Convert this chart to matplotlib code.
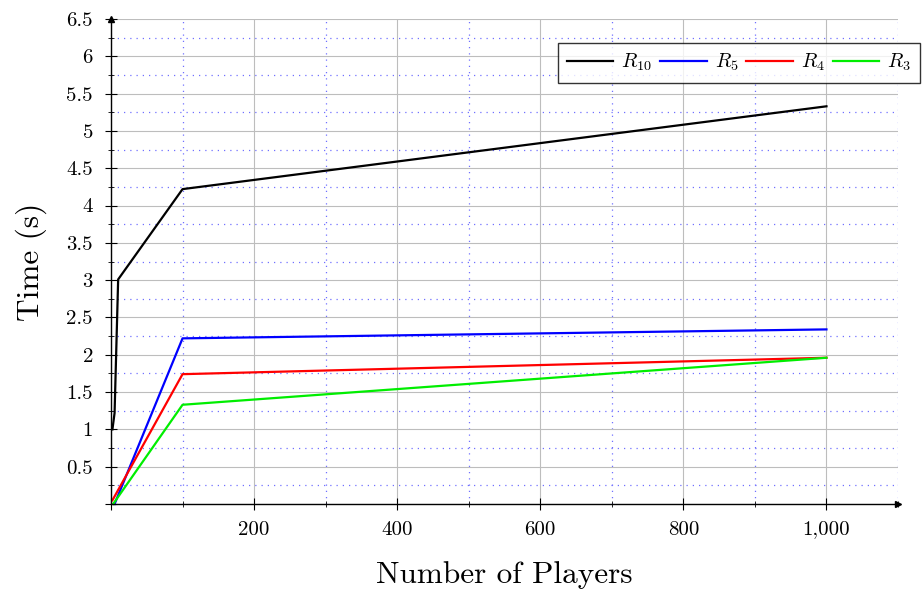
import numpy as np
import matplotlib
matplotlib.use('Agg')
from matplotlib import pyplot as plt
from matplotlib.ticker import MultipleLocator, FuncFormatter

# Measured run times per number of players
players_r10 = [2, 5, 10, 100, 1000]
time_r10 = [1.0, 1.22, 3.01, 4.22, 5.33]

players_r5 = [5, 100, 1000]
time_r5 = [0.0, 2.22, 2.34]

players_r4 = [2, 100, 1000]
time_r4 = [0.05, 1.74, 1.96]

players_r3 = [3, 100, 1000]
time_r3 = [0.0, 1.33, 1.96]

series = [
    (players_r10, time_r10, 'black', '$R_{10}$'),
    (players_r5, time_r5, 'blue', '$R_5$'),
    (players_r4, time_r4, 'red', '$R_4$'),
    (players_r3, time_r3, '#00ee00', '$R_3$'),
]

plt.rcParams['font.family'] = 'cmr10'
plt.rcParams['mathtext.fontset'] = 'cm'
plt.rcParams['axes.formatter.use_mathtext'] = True

fig = plt.figure(figsize=(9.23, 5.92), dpi=100)
ax = fig.add_axes([111 / 923, 1 - 504 / 592, (898 - 111) / 923, (504 - 19) / 592])

for x, y, c, lab in series:
    ax.plot(x, y, color=c, linewidth=1.6, label=lab, clip_on=False)

ax.set_xlim(0, 1100)
ax.set_ylim(0, 6.5)

ax.xaxis.set_major_locator(MultipleLocator(200))
ax.xaxis.set_minor_locator(MultipleLocator(100))
ax.yaxis.set_major_locator(MultipleLocator(0.5))
ax.yaxis.set_minor_locator(MultipleLocator(0.25))

def xfmt(v, pos):
    if v <= 0 or v > 1000:
        return ''
    return '{:,}'.format(int(round(v)))

def yfmt(v, pos):
    if v <= 0:
        return ''
    return '{:g}'.format(v)

ax.xaxis.set_major_formatter(FuncFormatter(xfmt))
ax.yaxis.set_major_formatter(FuncFormatter(yfmt))

ax.grid(which='major', color='#bdbdbd', linewidth=0.8)
ax.grid(which='minor', color='#7070ff', linewidth=0.9, linestyle=(0, (1, 4)))
ax.set_axisbelow(True)

ax.tick_params(which='major', direction='inout', length=8, width=0.8, labelsize=15)
ax.tick_params(which='minor', direction='inout', length=5, width=0.6)
ax.tick_params(axis='x', pad=8)
ax.tick_params(axis='y', pad=9)

for s in ['top', 'right']:
    ax.spines[s].set_visible(False)
for s in ['left', 'bottom']:
    ax.spines[s].set_linewidth(1.0)

# axis arrows
ax.plot(1, 0, '>k', markersize=5, transform=ax.transAxes, clip_on=False)
ax.plot(0, 1, '^k', markersize=5, transform=ax.transAxes, clip_on=False)

ax.set_xlabel('Number of Players', fontsize=22.5, labelpad=16)
ax.set_ylabel('Time (s)', fontsize=22.5, labelpad=14)

leg = fig.legend(loc='upper right', bbox_to_anchor=(920 / 923, 1 - 43 / 592), ncol=4,
                 fontsize=14.5, frameon=True, fancybox=False, handlelength=2.3,
                 handletextpad=0.4, columnspacing=0.4, borderpad=0.45,
                 borderaxespad=0)
leg.get_frame().set_edgecolor('black')
leg.get_frame().set_linewidth(1.0)

fig.savefig('out.png', dpi=100)
